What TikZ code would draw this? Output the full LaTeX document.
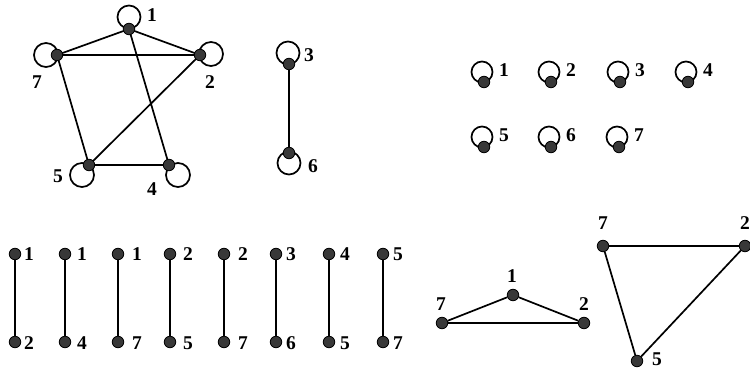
\documentclass[tikz,border=0pt]{standalone}
\usepackage{fontspec}
\setmainfont{Liberation Serif}
\begin{document}
\begin{tikzpicture}[x=1pt,y=-1pt,
  vtx/.style={circle,draw=black,fill=black!78,inner sep=0pt,minimum size=11.5pt,line width=0.8pt},
  lbl/.style={inner sep=0pt,font=\fontsize{19.5}{21}\selectfont\bfseries},
  edge/.style={line width=1.7pt},
  lp/.style={line width=1.7pt}]
\useasboundingbox (0,0) rectangle (750,369);
% ---- top left graph
\coordinate (a1) at (129,29);
\coordinate (a7) at (57,55);
\coordinate (a2) at (200,55);
\coordinate (a5) at (89,165);
\coordinate (a4) at (169,165);
\draw[lp] (129,17) circle (11.5);
\draw[lp] (46,55) circle (12);
\draw[lp] (211,54) circle (12);
\draw[lp] (82,175) circle (12);
\draw[lp] (178,175) circle (12);
\draw[edge] (a1) -- (a7) (a1) -- (a2) (a7) -- (a2) (a7) -- (a5) (a2) -- (a5) (a1) -- (a4) (a5) -- (a4);
\foreach \n in {1,7,2,5,4} \node[vtx] (v\n) at (a\n) {};
\node[lbl] (l1) at (152,15) {1};
\node[lbl] (l7) at (37,82) {7};
\node[lbl] (l2) at (210,82) {2};
\node[lbl] (l5) at (58,176) {5};
\node[lbl] (l4) at (152,189) {4};
% ---- 3-6
\draw[lp] (288,53) circle (11.5);
\draw[lp] (289,163) circle (11.5);
\node[vtx] (b3) at (289,64) {};
\node[vtx] (b6) at (289,153) {};
\draw[edge] (b3) -- (b6);
\node[lbl] (lb3) at (309,55) {3};
\node[lbl] (lb6) at (313,166) {6};
% ---- isolated loops
\foreach \n/\x/\y in {1/484/82,2/551/82,3/620/82,4/688/82,5/484/147,6/551/147,7/619/147}{
  \draw[lp] (\x-2,\y-10) circle (10.5);
  \node[vtx] (c\n) at (\x,\y) {};
  \node[lbl] (lc\n) at (\x+20,\y-12) {\n};
}
% ---- bottom edges
\foreach \i/\x/\t/\b/\lx in {1/15/1/2/14,2/65/1/4/17,3/118/1/7/19,4/170/2/5/18,5/224/2/7/19,6/276/3/6/15,7/329/4/5/16,8/383/5/7/15}{
  \node[vtx] (dt\i) at (\x,254) {};
  \node[vtx] (db\i) at (\x,342) {};
  \draw[edge] (dt\i) -- (db\i);
  \node[lbl] (ldt\i) at (\x+\lx,254) {\t};
  \node[lbl] (ldb\i) at (\x+\lx,343) {\b};
}
% ---- triangle 7-1-2
\node[vtx] (e7) at (442,323) {};
\node[vtx] (e1) at (513,295) {};
\node[vtx] (e2) at (584,323) {};
\draw[edge] (e7) -- (e1) -- (e2) -- (e7);
\node[lbl] (le7) at (441,304) {7};
\node[lbl] (le1) at (512,276) {1};
\node[lbl] (le2) at (584,304) {2};
% ---- triangle 7-2-5
\node[vtx] (f7) at (603,246) {};
\node[vtx] (f2) at (745,246) {};
\node[vtx] (f5) at (637,361) {};
\draw[edge] (f7) -- (f2) -- (f5) -- (f7);
\node[lbl] (lf7) at (603,223) {7};
\node[lbl] (lf2) at (745,223) {2};
\node[lbl] (lf5) at (657,359) {5};
\end{tikzpicture}
\end{document}
